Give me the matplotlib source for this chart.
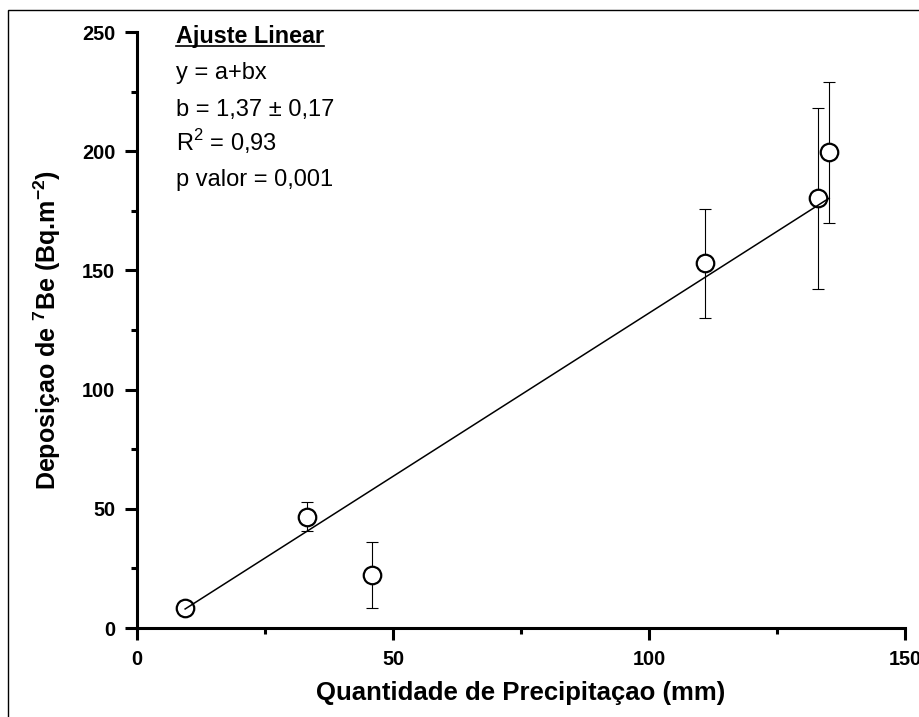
import numpy as np
import matplotlib
matplotlib.use('Agg')
import matplotlib.pyplot as plt
from matplotlib.patches import Rectangle
from matplotlib.lines import Line2D
from matplotlib.ticker import MultipleLocator

plt.rcParams['font.family'] = ['Liberation Sans', 'DejaVu Sans']
plt.rcParams['mathtext.fontset'] = 'custom'
plt.rcParams['mathtext.rm'] = 'Liberation Sans'
plt.rcParams['mathtext.bf'] = 'Liberation Sans:bold'

# data
precip = [9.4, 33.2, 45.9, 110.9, 133.1, 135.2]
deposicao = [8.4, 46.7, 22.2, 153.0, 180.2, 199.5]
erro = [3.0, 6.2, 13.7, 22.8, 38.0, 29.5]

# linear fit y = a + b*x
a_fit = -4.9
b_fit = 1.37

texto = ['y = a+bx', 'b = 1,37 \u00b1 0,17', r'R$^{2}$ = 0,93', 'p valor = 0,001']

fig = plt.figure(figsize=(9.19, 7.17), dpi=100)
ax = fig.add_axes([137/919, 1 - 628/717, 768/919, 596/717])

ax.errorbar(precip, deposicao, yerr=erro, fmt='none', ecolor='black',
            elinewidth=0.8, capsize=4.3, capthick=0.8, zorder=2)
ax.plot(precip, deposicao, 'o', ms=12.6, mfc='white', mec='black', mew=1.6, zorder=3)

xf = np.array([min(precip), max(precip)])
ax.plot(xf, a_fit + b_fit * xf, color='black', lw=1.1, zorder=4)

ax.set_xlim(0, 150)
ax.set_ylim(0, 250)
ax.xaxis.set_major_locator(MultipleLocator(50))
ax.xaxis.set_minor_locator(MultipleLocator(25))
ax.yaxis.set_major_locator(MultipleLocator(50))
ax.yaxis.set_minor_locator(MultipleLocator(25))

for s in ['top', 'right']:
    ax.spines[s].set_visible(False)
for s in ['left', 'bottom']:
    ax.spines[s].set_linewidth(2.2)

ax.tick_params(which='major', direction='out', length=8.6, width=2.2, pad=7)
ax.tick_params(which='minor', direction='out', length=4.3, width=2.2)
for lab in ax.get_xticklabels() + ax.get_yticklabels():
    lab.set_fontsize(14.3)
    lab.set_fontweight('bold')

ax.set_xlabel('Quantidade de Precipitaçao (mm)', fontsize=18.5, fontweight='bold', labelpad=9)
ax.set_ylabel(r'Deposiçao de $\mathbf{^{7}}$Be (Bq.m$\mathbf{^{-2}}$)', fontsize=18,
              fontweight='bold', labelpad=14)

tx = (176 - 137) / 768
titulo = ax.text(tx, 0.9815, 'Ajuste Linear', transform=ax.transAxes, fontsize=16.8,
                 fontweight='bold', va='baseline', ha='left')
ys = [0.9211, 0.859, 0.8003, 0.7416]
for t, yy in zip(texto, ys):
    ax.text(tx, yy, t, transform=ax.transAxes, fontsize=17, va='baseline', ha='left')

# underline for the title
fig.canvas.draw()
bb = titulo.get_window_extent()
base = ax.transAxes.transform((tx, 0.9815))[1]
inv = fig.transFigure.inverted()
p0 = inv.transform((bb.x0, base - 3))
p1 = inv.transform((bb.x1, base - 3))
fig.add_artist(Line2D([p0[0], p1[0]], [p0[1], p1[1]], color='black', lw=1.2))

# outer frame
fig.add_artist(Rectangle((8/919, -0.1), 1.0, 1.1 - 10/717, transform=fig.transFigure,
                         fill=False, edgecolor='black', lw=1.0))

fig.savefig('out.png', dpi=100)
